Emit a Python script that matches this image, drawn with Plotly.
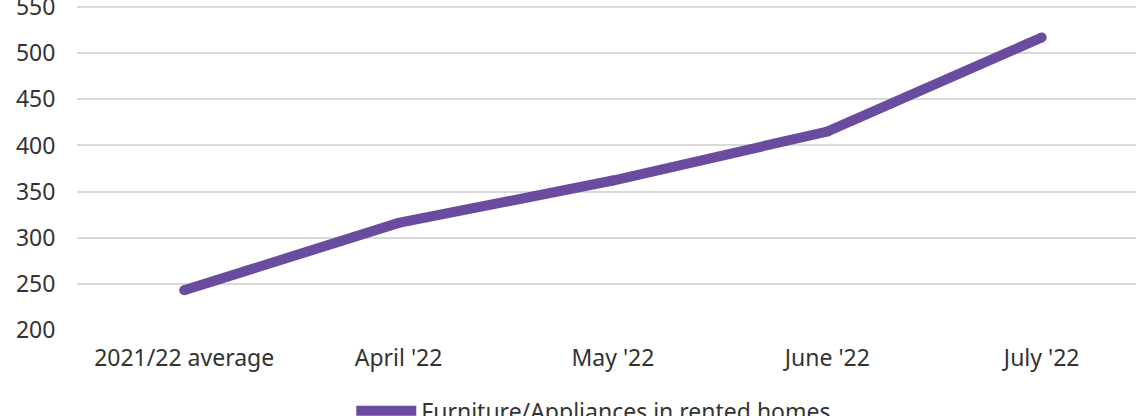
import plotly.graph_objects as go

categories = ["2021/22 average", "April '22", "May '22", "June '22", "July '22"]
values = [243, 316, 362, 415, 517]
series_name = "Furniture/Appliances in rented homes"

LINE_COLOR = "#6b4b9f"
TEXT_COLOR = "#333333"

fig = go.Figure()
fig.add_trace(go.Scatter(
    x=categories, y=values, name=series_name,
    mode="lines", line=dict(color=LINE_COLOR, width=10),
))
# round caps / joins
fig.add_trace(go.Scatter(
    x=categories, y=values, mode="markers", showlegend=False,
    marker=dict(color=LINE_COLOR, size=10, line=dict(width=0)),
))

fig.update_layout(
    width=1136, height=416,
    paper_bgcolor="white", plot_bgcolor="white",
    font=dict(family="Noto Sans", size=23, color=TEXT_COLOR),
    margin=dict(l=77, r=0, t=0, b=86),
    showlegend=True,
    legend=dict(
        orientation="h", x=0.259, xanchor="left",
        yref="container", y=0.064, yanchor="top",
        font=dict(size=23, color=TEXT_COLOR), itemwidth=60,
    ),
)
fig.update_xaxes(
    type="category", range=[-0.5, 4.44], showgrid=False, zeroline=False,
    showline=False, ticks="outside", ticklen=7, tickcolor="rgba(0,0,0,0)",
    automargin=False,
)
fig.update_yaxes(
    range=[200, 557.6], tickvals=[200, 250, 300, 350, 400, 450, 500, 550],
    showgrid=True, gridcolor="#d9d9d9", gridwidth=2, zeroline=False,
    showline=False, ticks="outside", ticklen=16, tickcolor="rgba(0,0,0,0)",
    automargin=False, ticklabeloverflow="allow",
)

fig.write_html(
    "out.html",
    config={"displayModeBar": False},
    post_script="document.body.style.margin='0';",
)
